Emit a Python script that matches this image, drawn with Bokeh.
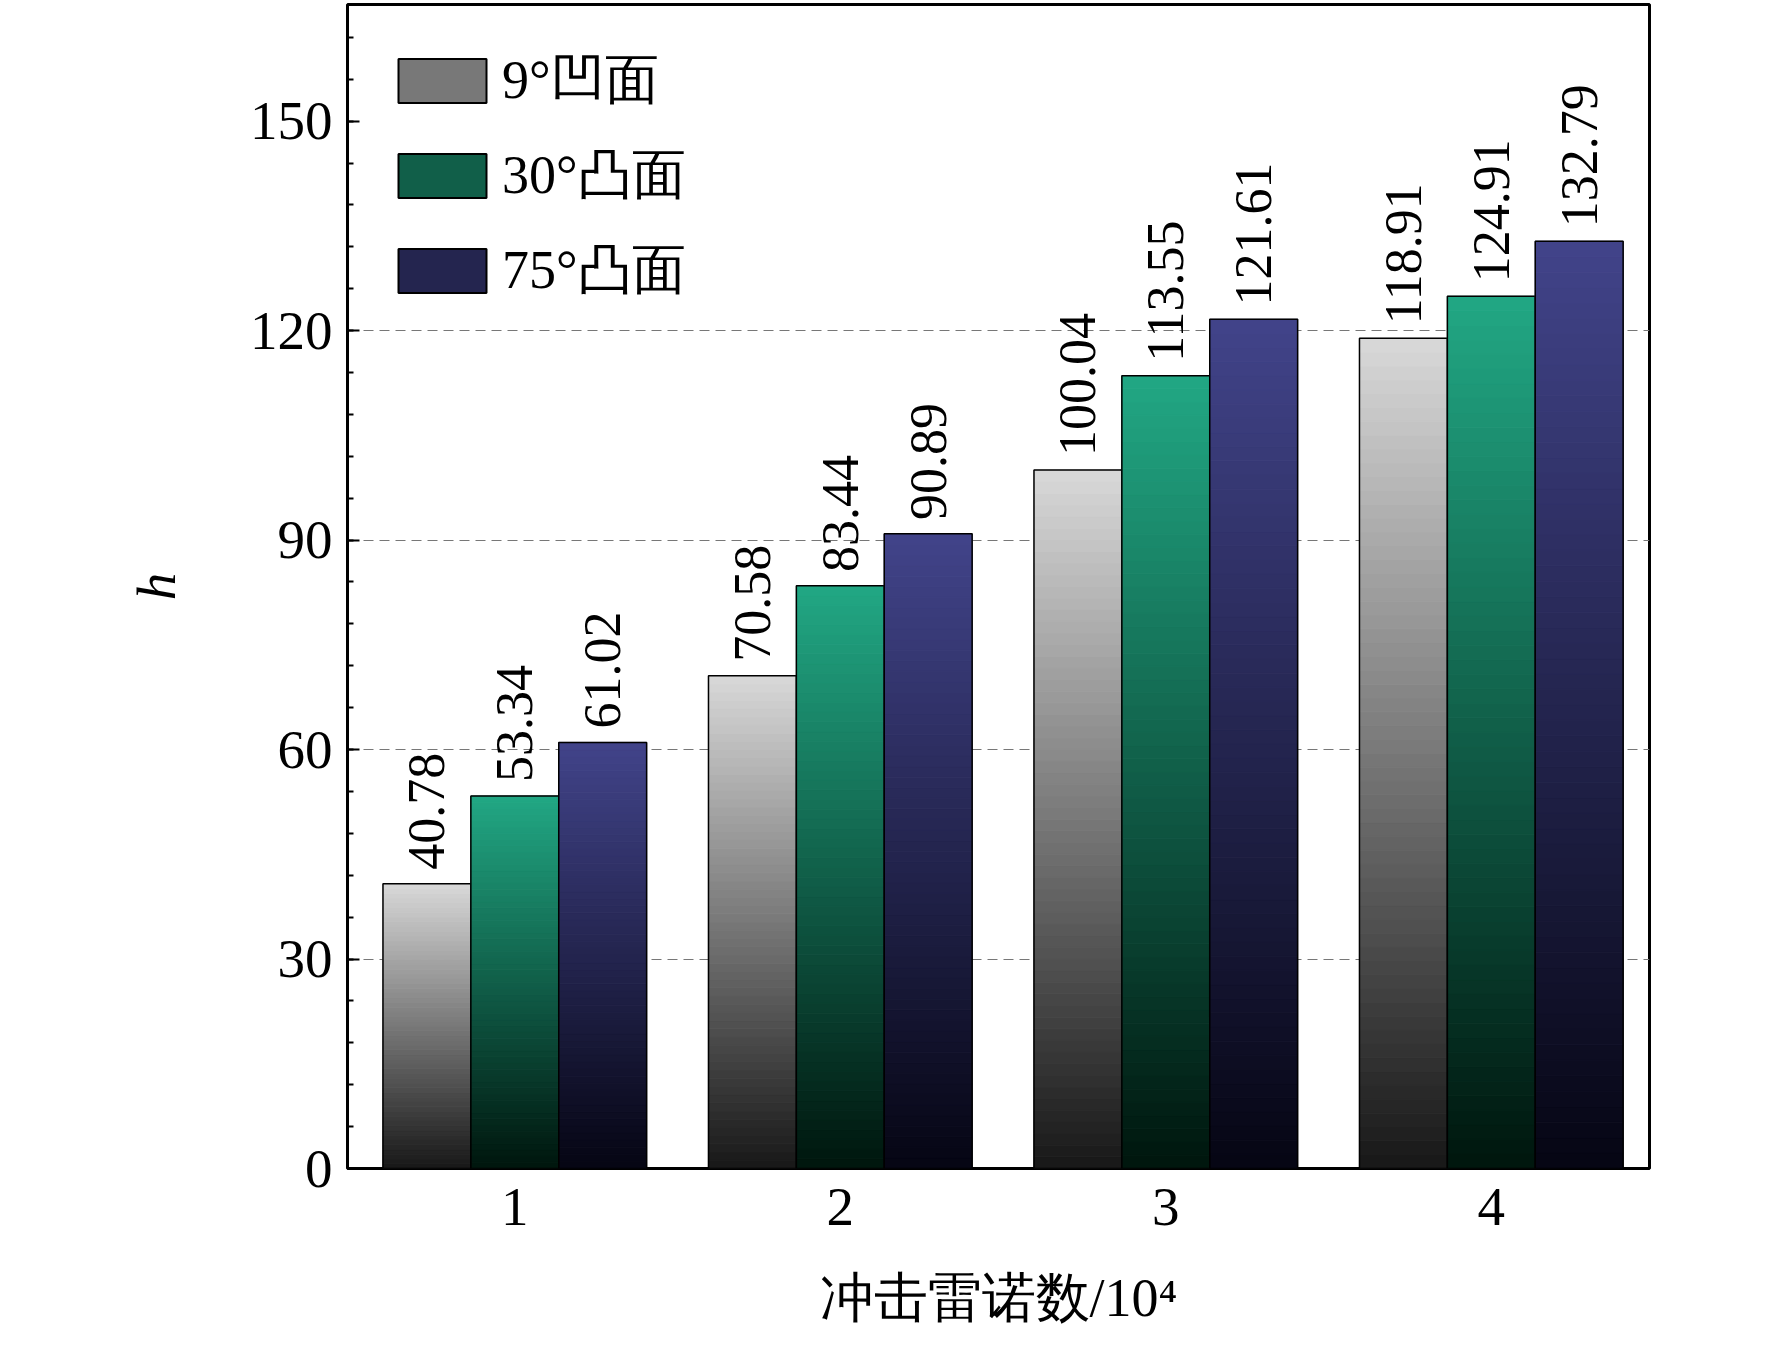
import numpy as np
from bokeh.plotting import figure
from bokeh.models import FixedTicker, Range1d, Legend, LegendItem, LabelSet, ColumnDataSource
from bokeh.embed import file_html
from bokeh.resources import INLINE

categories = [1, 2, 3, 4]
series_names = ["9°凹面", "30°凸面", "75°凸面"]
s_grey = [40.78, 70.58, 100.04, 118.91]
s_green = [53.34, 83.44, 113.55, 124.91]
s_blue = [61.02, 90.89, 121.61, 132.79]
y_ticks = [0, 30, 60, 90, 120, 150]

top_cols = [(217, 217, 217), (34, 168, 132), (66, 68, 138)]
bot_cols = [(24, 24, 24), (0, 22, 14), (6, 6, 20)]

p = figure(width=1756, height=1340, output_backend="svg", toolbar_location=None,
           x_range=Range1d(0.486, 4.486), y_range=Range1d(0, 166.7),
           frame_width=1302, frame_height=1164, min_border_left=347, min_border_top=4)
p.outline_line_color = "black"
p.outline_line_width = 3

w = 0.27
N = 60
items = []
for si, vals in enumerate([s_grey, s_green, s_blue]):
    off = (si - 1) * w
    L, R, B, T, C = [], [], [], [], []
    for c, v in zip(categories, vals):
        edges = np.linspace(0, v, N + 1)
        for k in range(N):
            f = (k + 0.5) / N
            col = tuple(int(bot_cols[si][j] + (top_cols[si][j] - bot_cols[si][j]) * f) for j in range(3))
            L.append(c + off - w / 2); R.append(c + off + w / 2)
            B.append(edges[k]); T.append(edges[k + 1])
            C.append("#%02x%02x%02x" % col)
    p.quad(left=L, right=R, bottom=B, top=T, fill_color=C, line_color=C, line_width=1)
    p.quad(left=[c + off - w / 2 for c in categories], right=[c + off + w / 2 for c in categories],
           bottom=0, top=vals, fill_color=None, line_color="black", line_width=1.5)
    sw = p.quad(left=[0], right=[0], bottom=[0], top=[0],
                fill_color="#%02x%02x%02x" % tuple((a + b) // 2 for a, b in zip(top_cols[si], bot_cols[si])),
                line_color="black", line_width=2)
    items.append(LegendItem(label=series_names[si], renderers=[sw]))
    src = ColumnDataSource(dict(x=[c + off for c in categories], y=[v + 2 for v in vals],
                                t=["%.2f" % v for v in vals]))
    p.add_layout(LabelSet(x="x", y="y", text="t", source=src, angle=np.pi / 2,
                          text_align="left", text_baseline="middle",
                          text_font="Liberation Serif", text_font_size="52px", text_color="black"))

leg = Legend(items=items, location="top_left", border_line_color=None, background_fill_alpha=0,
             label_text_font="Liberation Serif", label_text_font_size="54px", label_text_color="black",
             glyph_width=110, glyph_height=55, spacing=22, margin=40, padding=10)
p.add_layout(leg)

p.ygrid.ticker = FixedTicker(ticks=[30, 60, 90, 120])
p.ygrid.grid_line_color = "#777777"
p.ygrid.grid_line_dash = "10 6"
p.xgrid.grid_line_color = None

p.yaxis.ticker = FixedTicker(ticks=y_ticks, minor_ticks=list(range(0, 167, 6)))
p.xaxis.ticker = FixedTicker(ticks=categories)
for ax in (p.xaxis[0], p.yaxis[0]):
    ax.axis_line_color = None
    ax.major_label_text_font = "Liberation Serif"
    ax.major_label_text_font_size = "55px"
    ax.major_label_text_color = "black"
    ax.axis_label_text_color = "black"
p.yaxis.major_tick_in = 12; p.yaxis.major_tick_out = 0
p.yaxis.minor_tick_in = 6; p.yaxis.minor_tick_out = 0
p.yaxis.major_tick_line_width = 2; p.yaxis.minor_tick_line_width = 2
p.xaxis.major_tick_in = 0; p.xaxis.major_tick_out = 0
p.xaxis.minor_tick_line_color = None
p.xaxis.major_label_standoff = 20
p.yaxis.major_label_standoff = 15
p.yaxis.axis_label = "h"
p.yaxis.axis_label_text_font = "Liberation Serif"
p.yaxis.axis_label_text_font_style = "italic"
p.yaxis.axis_label_text_font_size = "55px"
p.yaxis.axis_label_standoff = 60
p.xaxis.axis_label = "冲击雷诺数/10⁴"
p.xaxis.axis_label_text_font = "Liberation Serif"
p.xaxis.axis_label_text_font_style = "normal"
p.xaxis.axis_label_text_font_size = "54px"
p.xaxis.axis_label_standoff = 40

open("out.html", "w").write(file_html(p, INLINE))
